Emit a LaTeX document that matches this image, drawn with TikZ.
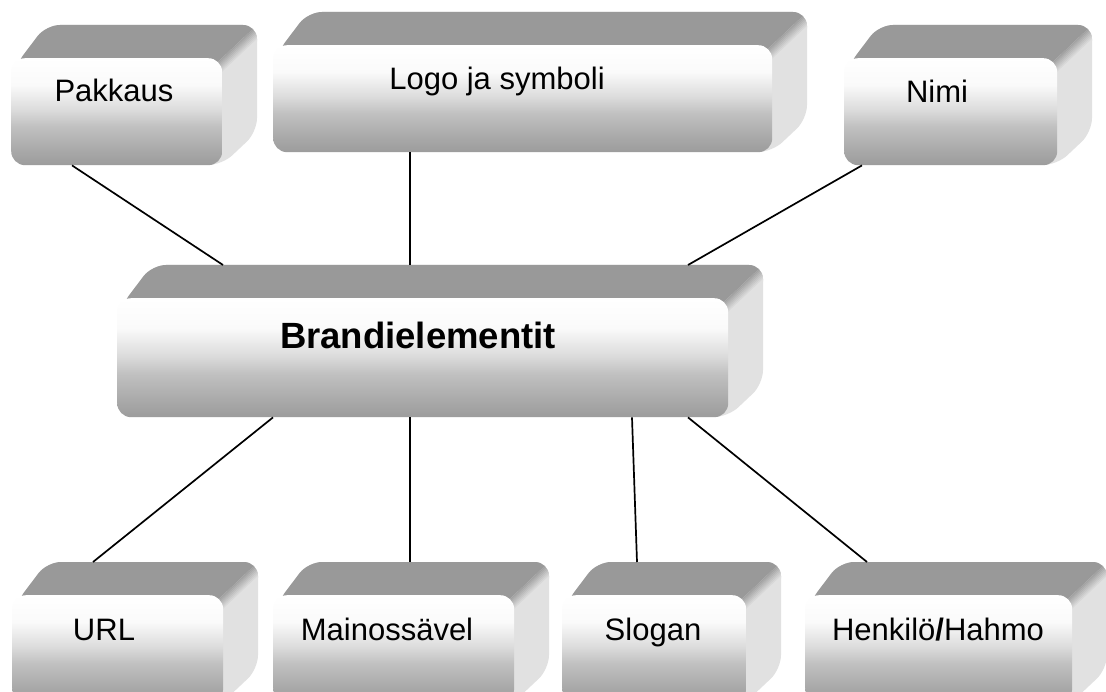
\documentclass[tikz,border=0pt]{standalone}
\usepackage{fontspec}
\setmainfont{Liberation Sans}
\usetikzlibrary{calc}
\definecolor{topg}{HTML}{999999}
\definecolor{sideL}{HTML}{E1E1E1}
\definecolor{f9C}{HTML}{9C9C9C}
\definecolor{fA5}{HTML}{A6A6A6}
\definecolor{fC0}{HTML}{C0C0C0}
\definecolor{fDC}{HTML}{DCDCDC}
\definecolor{fFA}{HTML}{FAFAFA}
\pgfdeclareverticalshading{frontsh}{100bp}{color(0bp)=(f9C); color(25bp)=(f9C); color(30.5bp)=(fA5); color(43bp)=(fC0); color(51bp)=(fDC); color(62.5bp)=(fFA); color(75bp)=(white); color(100bp)=(white)}
\tikzset{
  frontface/.style={shade, shading=frontsh, rounded corners=14pt, inner sep=0pt, anchor=north west, draw=none},
  lab/.style={font=\fontsize{31}{31}\selectfont, inner sep=0pt, anchor=base},
  blab/.style={font=\fontsize{36.5}{36.5}\selectfont\bfseries, inner sep=0pt, anchor=base},
  conn/.style={draw=black, line width=1.7pt}
}
% #1 name, #2 x1, #3 y1, #4 x2, #5 y2 (front face, pixel coords)
\newcommand\tdbox[5]{%
  \begin{scope}
  \clip[rounded corners=14pt] ({#2+4},{#3+8}) -- ({#2+35},{#3-33}) -- ({#4+35},{#3-33}) -- ({#4+35},{#5-33}) -- (#4,#5) -- ({#2+4},#5) -- cycle;
  \fill[sideL] ({#2-10},{#3-40}) rectangle ({#4+40},{#5+10});
  \fill[topg] ({#2-10},{#3-40}) -- ({#4+40},{#3-40}) -- ({#4+40},{#3-40*33/35}) -- ({#4-20},{#3+20*33/35}) -- ({#2-10},{#3+20*33/35}) -- cycle;
  \foreach \k in {0,...,7}{%
    \pgfmathsetmacro\pc{(\k+1)*12.5}%
    \fill[color=sideL!\pc!topg] ({#4-20},{#3+20*33/35+2*\k}) -- ({#4+40},{#3-40*33/35+2*\k}) -- ({#4+40},{#3-40*33/35+2*\k+2.4}) -- ({#4-20},{#3+20*33/35+2*\k+2.4}) -- cycle;
  }
  \end{scope}
  \node[frontface, minimum width={(#4-#2)*1pt}, minimum height={(#5-#3)*1pt}] (#1) at (#2,#3) {};
}
\begin{document}
\begin{tikzpicture}[x=1pt, y=-1pt]
\useasboundingbox (0,0) rectangle (1106,692);
\clip (0,0) rectangle (1106,692);
\fill[white] (0,0) rectangle (1106,692);

\tdbox{pak}{11}{58}{222}{165}
\tdbox{logo}{273}{45}{772}{152}
\tdbox{nimi}{844}{58}{1057}{165}
\tdbox{brand}{117}{298}{728}{417}
\tdbox{url}{12}{595}{223}{702}
\tdbox{mainos}{273}{595}{514}{702}
\tdbox{slogan}{562}{595}{746}{702}
\tdbox{henk}{805}{595}{1072}{702}

\node[lab] (pakT) at (114,102) {Pakkaus};
\node[lab] (logoT) at (497,90) {Logo ja symboli};
\node[lab] (nimiT) at (937,103) {Nimi};
\node[blab] (brandT) at (418,349) {Brandielementit};
\node[lab] (urlT) at (104,640) {URL};
\node[lab] (mainosT) at (387,640) {Mainossävel};
\node[lab] (sloganT) at (653,640) {Slogan};
\node[lab] (henkT) at (938,640) {Henkilö\textbf{/}Hahmo};

\draw[conn] ($(pak.south west)+(61,0)$) -- ($(brand.north west)+(106,-33)$);
\draw[conn] ($(logo.south west)+(137,0)$) -- ($(brand.north west)+(293,-33)$);
\draw[conn] ($(nimi.south west)+(18,0)$) -- ($(brand.north west)+(571,-33)$);
\draw[conn] ($(brand.south west)+(156,0)$) -- ($(url.north west)+(81,-33)$);
\draw[conn] ($(brand.south west)+(293,0)$) -- ($(mainos.north west)+(137,-33)$);
\draw[conn] ($(brand.south west)+(515,0)$) -- ($(slogan.north west)+(75,-33)$);
\draw[conn] ($(brand.south west)+(571,0)$) -- ($(henk.north west)+(62,-33)$);
\end{tikzpicture}
\end{document}
